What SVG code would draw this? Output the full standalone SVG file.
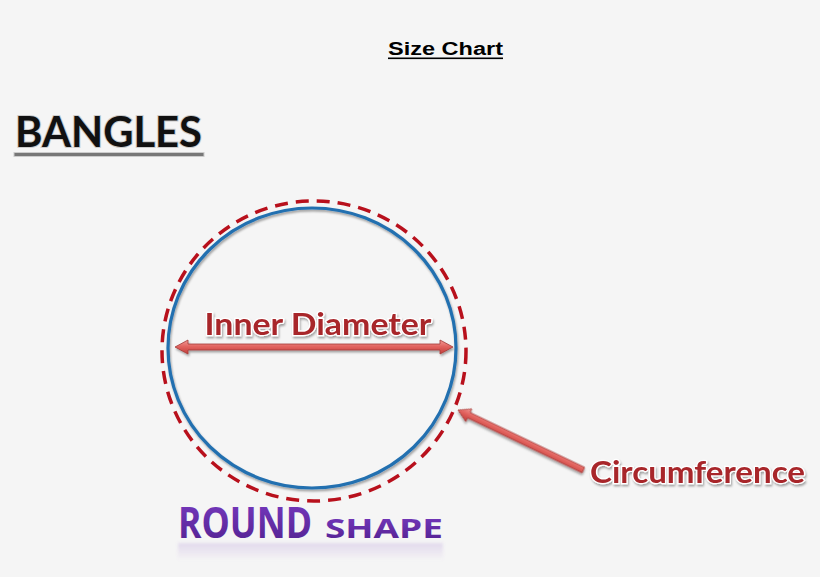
<svg xmlns="http://www.w3.org/2000/svg" width="820" height="577" viewBox="0 0 820 577">
  <defs>
    <linearGradient id="arrowFill" x1="0" y1="0" x2="0" y2="1">
      <stop offset="0" stop-color="#f29a96"/>
      <stop offset="0.5" stop-color="#e0605c"/>
      <stop offset="1" stop-color="#c2403c"/>
    </linearGradient>
    <linearGradient id="purple" x1="0" y1="0" x2="0" y2="1">
      <stop offset="0" stop-color="#7b3cc4"/>
      <stop offset="1" stop-color="#4f1f8c"/>
    </linearGradient>
    <linearGradient id="reflectFade" x1="0" y1="0" x2="0" y2="1">
      <stop offset="0" stop-color="#8a5cc8" stop-opacity="0.18"/>
      <stop offset="1" stop-color="#8a5cc8" stop-opacity="0"/>
    </linearGradient>
    <filter id="shadow" x="-10%" y="-20%" width="120%" height="150%">
      <feDropShadow dx="1" dy="2" stdDeviation="1.2" flood-color="#000" flood-opacity="0.35"/>
    </filter>
    <filter id="soft" x="-10%" y="-50%" width="120%" height="200%">
      <feGaussianBlur stdDeviation="1.5"/>
    </filter>
  </defs>
  <style>
    .red-label { font-family: "Lato", "Open Sans", sans-serif; font-weight: bold; fill: #a8262a; stroke: #ffffff; stroke-width: 2.5; paint-order: stroke; filter: url(#shadow); }
    .arrow { fill: url(#arrowFill); stroke: #a33a36; stroke-width: 0.8; filter: url(#shadow); }
    .purple { font-family: "Open Sans", Lato, sans-serif; font-weight: bold; fill: url(#purple); }
  </style>
  <rect width="820" height="577" fill="#f5f5f5"/>

  <g id="title">
    <text x="388" y="55" font-family="Liberation Sans, Arial, sans-serif" font-weight="bold" font-size="18" textLength="115" lengthAdjust="spacingAndGlyphs" fill="#000">Size Chart</text>
    <rect x="388" y="57.5" width="115" height="1.6" fill="#000"/>
  </g>

  <g id="bangles">
    <rect x="14" y="152.5" width="190" height="4" fill="#777" stroke="#ccc" stroke-width="1"/>
    <text x="15" y="147" font-family="Lato, 'Open Sans', sans-serif" font-weight="bold" font-size="42" textLength="187" lengthAdjust="spacingAndGlyphs" fill="#111" stroke="#ccc" stroke-width="2" paint-order="stroke">BANGLES</text>
  </g>

  <g id="circumference-ring">
    <ellipse cx="314" cy="351" rx="152" ry="150" fill="none" stroke="#b8101c" stroke-width="3.5" stroke-dasharray="13 8"/>
  </g>

  <g id="bangle">
    <ellipse cx="312" cy="348" rx="144" ry="140" fill="none" stroke="#2470b0" stroke-width="3.2" filter="url(#shadow)"/>
  </g>

  <g id="connectors">
    <path class="arrow" d="M175,347 L188,340 L188,344 L440,344 L440,340 L453,347 L440,354 L440,350 L188,350 L188,354 Z"/>
    <g transform="translate(458,410) rotate(25.6)">
      <path class="arrow" d="M0,0 L12,-7 L12,-3 L139,-3 L139,3 L12,3 L12,7 Z"/>
    </g>
  </g>

  <g id="inner-diameter">
    <text class="red-label" x="318" y="335" font-size="30" text-anchor="middle" textLength="227" lengthAdjust="spacingAndGlyphs">Inner Diameter</text>
  </g>

  <g id="circumference">
    <text class="red-label" x="590" y="483" font-size="30" textLength="215" lengthAdjust="spacingAndGlyphs">Circumference</text>
  </g>

  <g id="round-shape">
    <g transform="translate(178,538) scale(1,1.2)">
      <text class="purple" x="0" y="0" font-size="36" textLength="134" lengthAdjust="spacingAndGlyphs">ROUND</text>
    </g>
    <text class="purple" x="325" y="538" font-size="27" textLength="118" lengthAdjust="spacingAndGlyphs">SHAPE</text>
    <rect x="178" y="543" width="265" height="18" fill="url(#reflectFade)" filter="url(#soft)"/>
  </g>
</svg>
